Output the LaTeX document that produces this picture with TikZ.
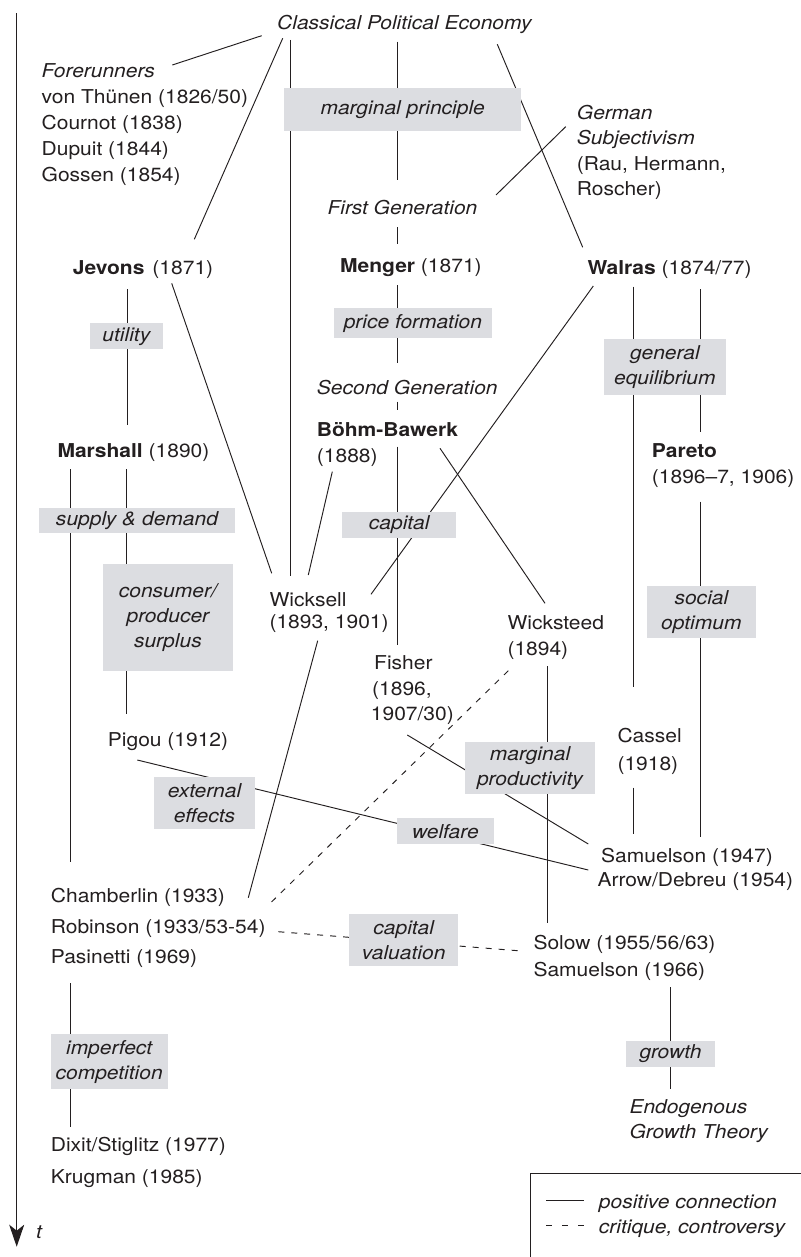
\documentclass[tikz,border=0pt]{standalone}
\usepackage{fontspec}
\setmainfont{TeX Gyre Heros}[FakeStretch=1.1]
\usetikzlibrary{arrows.meta}
\definecolor{ink}{HTML}{231F20}
\definecolor{boxgray}{HTML}{DCDDE1}
\pgfdeclarelayer{bg}
\pgfsetlayers{bg,main}
\newcommand\fsz{\fontsize{19.1}{25}\selectfont}
\begin{document}
\begin{tikzpicture}[x=1pt,y=-1pt,
  lbl/.style={anchor=base west, inner sep=0pt, text=ink, font=\fsz},
  ilbl/.style={anchor=base west, inner sep=0pt, text=ink, font=\fsz\itshape},
  gbox/.style={fill=boxgray, inner sep=0pt, align=center, text=ink, font=\fsz\itshape},
  conn/.style={draw=ink, line width=0.95pt},
  critline/.style={conn, dash pattern=on 6pt off 7pt},
]
\useasboundingbox (0,0) rectangle (800,1257);

% ---------- text nodes ----------
\node[ilbl] (cpe) at (277,30) {Classical Political Economy};
\node[ilbl] (fore) at (41.5,78) {Forerunners};
\node[lbl] (thu) at (41.5,104) {von Thünen (1826/50)};
\node[lbl] (cou) at (41.5,130) {Cournot (1838)};
\node[lbl] (dup) at (41.5,155.7) {Dupuit (1844)};
\node[lbl] (gos) at (41.5,181.3) {Gossen (1854)};
\node[ilbl] (ger) at (576.7,119.3) {German};
\node[ilbl] (subj) at (576.7,145) {Subjectivism};
\node[lbl] (rau) at (576.7,170.3) {(Rau, Hermann,};
\node[lbl] (rosch) at (576.7,196) {Roscher)};
\node[ilbl] (fg) at (327.3,214.3) {First Generation};
\node[lbl] (jev) at (72.7,274) {\textbf{Jevons}\hspace{8pt}(1871)};
\node[lbl] (men) at (340,272.7) {\textbf{Menger} (1871)};
\node[lbl] (wal) at (587.3,274) {\textbf{Walras} (1874/77)};
\node[ilbl] (sg) at (316.7,394) {Second Generation};
\node[lbl] (bb) at (316.7,436) {\textbf{Böhm-Bawerk}};
\node[lbl] (bby) at (316.7,462) {(1888)};
\node[lbl] (mar) at (57.3,457.7) {\textbf{Marshall} (1890)};
\node[lbl] (par) at (651.7,457.3) {\textbf{Pareto}};
\node[lbl] (pary) at (651.7,483) {(1896--7, 1906)};
\node[lbl] (wick) at (269.3,606) {Wicksell};
\node[lbl] (wicky) at (269.3,628.3) {(1893, 1901)};
\node[lbl] (wst) at (507.3,629.3) {Wicksteed};
\node[lbl] (wsty) at (507.3,655.7) {(1894)};
\node[lbl] (fis) at (374,669) {Fisher};
\node[lbl] (fisy) at (372,695) {(1896,};
\node[lbl] (fisz) at (370.7,720) {1907/30)};
\node[lbl] (cas) at (617.3,742.7) {Cassel};
\node[lbl] (casy) at (617.3,770.7) {(1918)};
\node[lbl] (pig) at (107.7,746.7) {Pigou (1912)};
\node[lbl] (sam) at (601,862.3) {Samuelson (1947)};
\node[lbl] (arr) at (597.3,886) {Arrow/Debreu (1954)};
\node[lbl] (cham) at (50.7,902.7) {Chamberlin (1933)};
\node[lbl] (rob) at (50.7,933.3) {Robinson (1933/53-54)};
\node[lbl] (pas) at (50.7,963.3) {Pasinetti (1969)};
\node[lbl] (sol) at (533.3,949.3) {Solow (1955/56/63)};
\node[lbl] (samb) at (533.3,976.7) {Samuelson (1966)};
\node[ilbl] (endo) at (629.3,1113.3) {Endogenous};
\node[ilbl] (egt) at (629.3,1138.3) {Growth Theory};
\node[lbl] (dix) at (50.7,1151.7) {Dixit/Stiglitz (1977)};
\node[lbl] (kru) at (50.7,1183.3) {Krugman (1985)};
\node[ilbl] (tlab) at (36,1238.3) {t};
\node[ilbl] (lpos) at (598.7,1208.3) {positive connection};
\node[ilbl] (lcrit) at (598.7,1233.3) {critique, controversy};

% ---------- grey topic boxes ----------
\node[gbox, minimum width=236.7pt, minimum height=42.7pt] (mp) at (402.7,109.7) {marginal principle};
\node[gbox, minimum width=157.7pt, minimum height=30pt] (pf) at (412.9,323.3) {price formation};
\node[gbox, minimum width=72.7pt, minimum height=25.7pt] (util) at (126.4,336.2) {utility};
\node[gbox, minimum width=196pt, minimum height=25pt] (sd) at (137,520.8) {supply \& demand};
\node[gbox, minimum width=113.7pt, minimum height=26pt] (capb) at (399.2,524.7) {capital};
\node[gbox, minimum width=121.7pt, minimum height=55.7pt] (ge) at (664.9,367.2) {general\\equilibrium};
\node[gbox, minimum width=108.7pt, minimum height=51.7pt] (so) at (701.4,611.9) {social\\optimum};
\node[gbox, minimum width=129.7pt, minimum height=106.7pt] (cps) at (167.9,617.4) {consumer/\\producer\\surplus};
\node[gbox, minimum width=101pt, minimum height=52.3pt] (ee) at (204.5,802.9) {external\\effects};
\node[gbox, minimum width=130pt, minimum height=51.7pt] (mpr) at (530,768.2) {marginal\\productivity};
\node[gbox, minimum width=97.3pt, minimum height=25.7pt] (wel) at (445.4,831.2) {welfare};
\node[gbox, minimum width=109.3pt, minimum height=52pt] (cv) at (403.7,940) {capital\\valuation};
\node[gbox, minimum width=117pt, minimum height=55.3pt] (ic) at (109.2,1061.7) {imperfect\\competition};
\node[gbox, minimum width=89pt, minimum height=25.7pt] (gr) at (670.5,1053.9) {growth};

% ---------- time axis and legend frame ----------
\coordinate (axtop) at (16.7,13.3);
\coordinate (axend) at (16.7,1246.7);
\draw[conn, -{Stealth[length=22pt,width=15pt,inset=6pt]}] (axtop) -- (axend);
\draw[conn] (530,1262) -- (530,1173.3) -- (805,1173.3);
\draw[conn] ([shift={(-52.7,-7.6)}]lpos.base west) -- ([shift={(-14.4,-7.6)}]lpos.base west);
\draw[conn, dash pattern=on 6pt off 10pt] ([shift={(-52.7,-8)}]lcrit.base west) -- ([shift={(-14.4,-8)}]lcrit.base west);

% ---------- connectors ----------
\begin{pgfonlayer}{bg}
\draw[conn] ([shift={(-15.3,5.7)}]cpe.base west) -- ([shift={(130.8,-13)}]fore.base west);
\draw[conn] ([shift={(5.7,8.3)}]cpe.base west) -- ([shift={(121.6,-34.7)}]jev.base west);
\draw[conn] ([shift={(13.7,10)}]cpe.base west) -- ([shift={(21.4,-30)}]wick.base west);
\draw[conn] ([shift={(120,11.7)}]cpe.base west) -- ([shift={(69.7,-34.3)}]fg.base west);
\draw[conn] ([shift={(220.3,14.3)}]cpe.base west) -- ([shift={(-4.6,-26.7)}]wal.base west);
\draw[conn] ([shift={(-11,7.4)}]ger.base west) -- ([shift={(168.7,-19.3)}]fg.base west);
\draw[conn] ([shift={(69.7,13)}]fg.base west) -- ([shift={(57,-28.4)}]men.base west);
\draw[conn] ([shift={(57,12.3)}]men.base west) -- ([shift={(80.3,-30.7)}]sg.base west);
\draw[conn] ([shift={(80.3,7.7)}]sg.base west) -- ([shift={(80.3,-26)}]bb.base west);
\draw[conn] ([shift={(80.3,10.7)}]bb.base west) -- ([shift={(23,-24)}]fis.base west);
\draw[conn] ([shift={(15.6,9.7)}]bby.base west) -- ([shift={(39,-31)}]wick.base west);
\draw[conn] ([shift={(123.3,12.3)}]bb.base west) -- ([shift={(37.7,-26)}]wst.base west);
\draw[conn] ([shift={(6,12)}]wal.base west) -- ([shift={(101.7,-11.7)}]wick.base west);
\draw[conn] ([shift={(45.7,12.7)}]wal.base west) -- ([shift={(15.7,-56)}]cas.base west);
\draw[conn] ([shift={(112.7,15.3)}]wal.base west) -- ([shift={(48.3,-25.6)}]par.base west);
\draw[conn] ([shift={(48.3,18.7)}]pary.base west) -- ([shift={(99,-25)}]sam.base west);
\draw[conn] ([shift={(16,17)}]casy.base west) -- ([shift={(32.3,-28)}]sam.base west);
\draw[conn] ([shift={(55,15.3)}]jev.base west) -- ([shift={(70.4,-32.7)}]mar.base west);
\draw[conn] ([shift={(99,9.3)}]jev.base west) -- ([shift={(2.4,-32.7)}]wick.base west);
\draw[conn] ([shift={(12.7,11.6)}]mar.base west) -- ([shift={(19.3,-41)}]cham.base west);
\draw[conn] ([shift={(68.7,11.6)}]mar.base west) -- ([shift={(18.3,-32.7)}]pig.base west);
\draw[conn] ([shift={(29.6,13.3)}]pig.base west) -- ([shift={(-9,-16)}]arr.base west);
\draw[conn] ([shift={(36.6,15)}]fisz.base west) -- ([shift={(-12.7,-18.3)}]sam.base west);
\draw[conn] ([shift={(48.4,12.4)}]wicky.base west) -- ([shift={(197.6,-5)}]cham.base west);
\draw[critline] ([shift={(1,15)}]wsty.base west) -- ([shift={(216,-26.6)}]rob.base west);
\draw[conn] ([shift={(40.4,10.3)}]wsty.base west) -- ([shift={(14.4,-26.6)}]sol.base west);
\draw[critline] ([shift={(227.6,-1.6)}]rob.base west) -- ([shift={(-11.6,1.7)}]sol.base west);
\draw[conn] ([shift={(136.7,10.6)}]samb.base west) -- ([shift={(40.7,-24.3)}]endo.base west);
\draw[conn] ([shift={(19.3,20)}]pas.base west) -- ([shift={(19.3,-24.4)}]dix.base west);
\end{pgfonlayer}
\end{tikzpicture}
\end{document}
